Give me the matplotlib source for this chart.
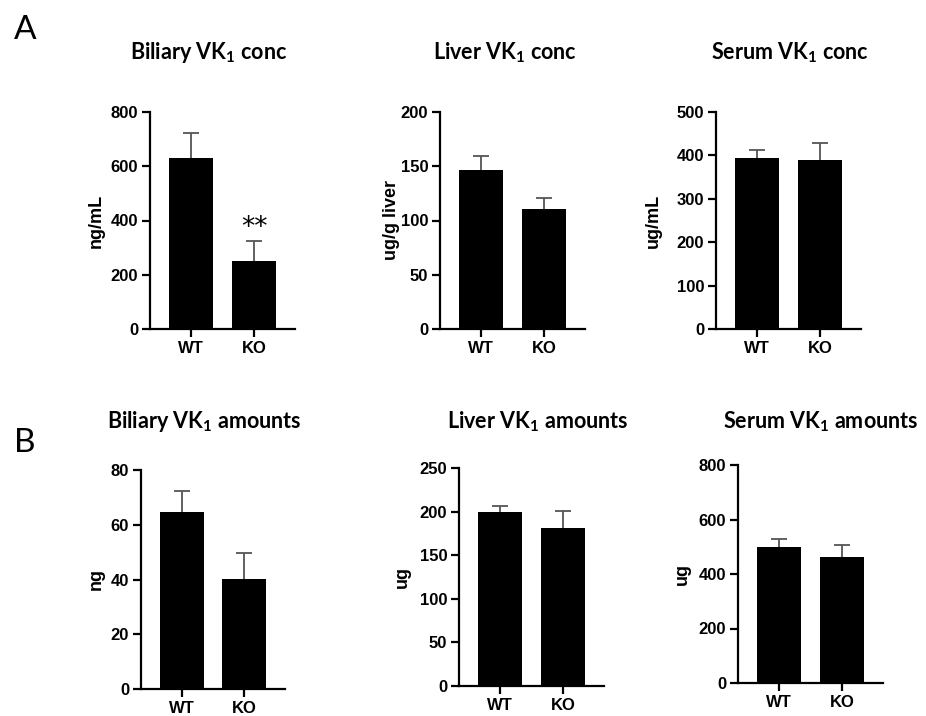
import numpy as np
import matplotlib
matplotlib.use("Agg")
import matplotlib.pyplot as plt

plt.rcParams['mathtext.fontset'] = 'custom'
plt.rcParams['mathtext.rm'] = 'Lato:bold'
plt.rcParams['mathtext.bf'] = 'Lato:bold'

groups = ["WT", "KO"]

# panel A: concentrations
biliary_conc = [632, 252]
biliary_conc_err = [91, 71]
liver_conc = [147, 111]
liver_conc_err = [12, 10]
serum_conc = [394, 389]
serum_conc_err = [18, 39]

# panel B: amounts
biliary_amt = [64.8, 40.1]
biliary_amt_err = [7.5, 9.4]
liver_amt = [200, 181]
liver_amt_err = [6, 20]
serum_amt = [499, 462]
serum_amt_err = [31, 43]

panels = [
    # organ, kind, ylabel, values, errors, ymax, step, axes rect (px), title pos (px), ylabel x (px)
    ("Biliary", "conc", "ng/mL", biliary_conc, biliary_conc_err, 800, 200, (150, 112, 145, 217), (209, 59), 96),
    ("Liver", "conc", "ug/g liver", liver_conc, liver_conc_err, 200, 50, (440, 112, 145, 217), (505, 59), 391),
    ("Serum", "conc", "ug/mL", serum_conc, serum_conc_err, 500, 100, (716, 112, 145, 217), (790, 59), 653),
    ("Biliary", "amounts", "ng", biliary_amt, biliary_amt_err, 80, 20, (141, 470, 144, 219), (204, 428), 96),
    ("Liver", "amounts", "ug", liver_amt, liver_amt_err, 250, 50, (459, 468, 145, 218), (538, 428), 402),
    ("Serum", "amounts", "ug", serum_amt, serum_amt_err, 800, 200, (738, 465, 145, 218), (821, 428), 682),
]

W, H = 926, 716
fig = plt.figure(figsize=(W / 100, H / 100), dpi=100)

x = np.arange(len(groups))
for organ, kind, ylab, vals, errs, ymax, step, rect, tpos, ylx in panels:
    l, t, w, h = rect
    ax = fig.add_axes([l / W, 1 - (t + h) / H, w / W, h / H])
    ax.bar(x, vals, width=0.7, color="black", zorder=2)
    tops = np.array(vals) + np.array(errs)
    ax.vlines(x, vals, tops, color="#555555", lw=1.3, zorder=1)
    ax.hlines(tops, x - 0.13, x + 0.13, color="#555555", lw=1.3, zorder=1)

    ax.set_xlim(-0.65, 1.65)
    ax.set_ylim(0, ymax)
    ax.set_yticks(np.arange(0, ymax + step / 2, step))
    ax.set_xticks(x)
    ax.set_xticklabels(groups)
    for s in ["top", "right"]:
        ax.spines[s].set_visible(False)
    for s in ["left", "bottom"]:
        ax.spines[s].set_linewidth(1.6)
    ax.tick_params(width=1.6, length=6, pad=2.5)
    for lab in ax.get_xticklabels() + ax.get_yticklabels():
        lab.set_fontfamily("Liberation Sans")
        lab.set_fontweight("bold")
        lab.set_fontsize(12)
    ax.set_ylabel(ylab, fontfamily="Liberation Sans", fontweight="bold", fontsize=13)
    ax.yaxis.label.set_verticalalignment("center")
    ax.yaxis.set_label_coords((ylx - l) / w, 0.5)

    fig.text(tpos[0] / W, 1 - tpos[1] / H, organ + r" VK$_\mathrm{1}$ " + kind,
             ha="center", va="baseline", fontfamily="Lato", fontweight="bold", fontsize=15.5)

    if organ == "Biliary" and kind == "conc":
        ax.text(1, 372, "**", ha="center", va="center", fontfamily="DejaVu Sans",
                fontsize=19)

fig.text(25 / W, 1 - 30 / H, "A", ha="center", va="center", fontfamily="Lato", fontsize=24)
fig.text(25 / W, 1 - 443 / H, "B", ha="center", va="center", fontfamily="Lato", fontsize=24)

fig.savefig("out.png", dpi=100)
